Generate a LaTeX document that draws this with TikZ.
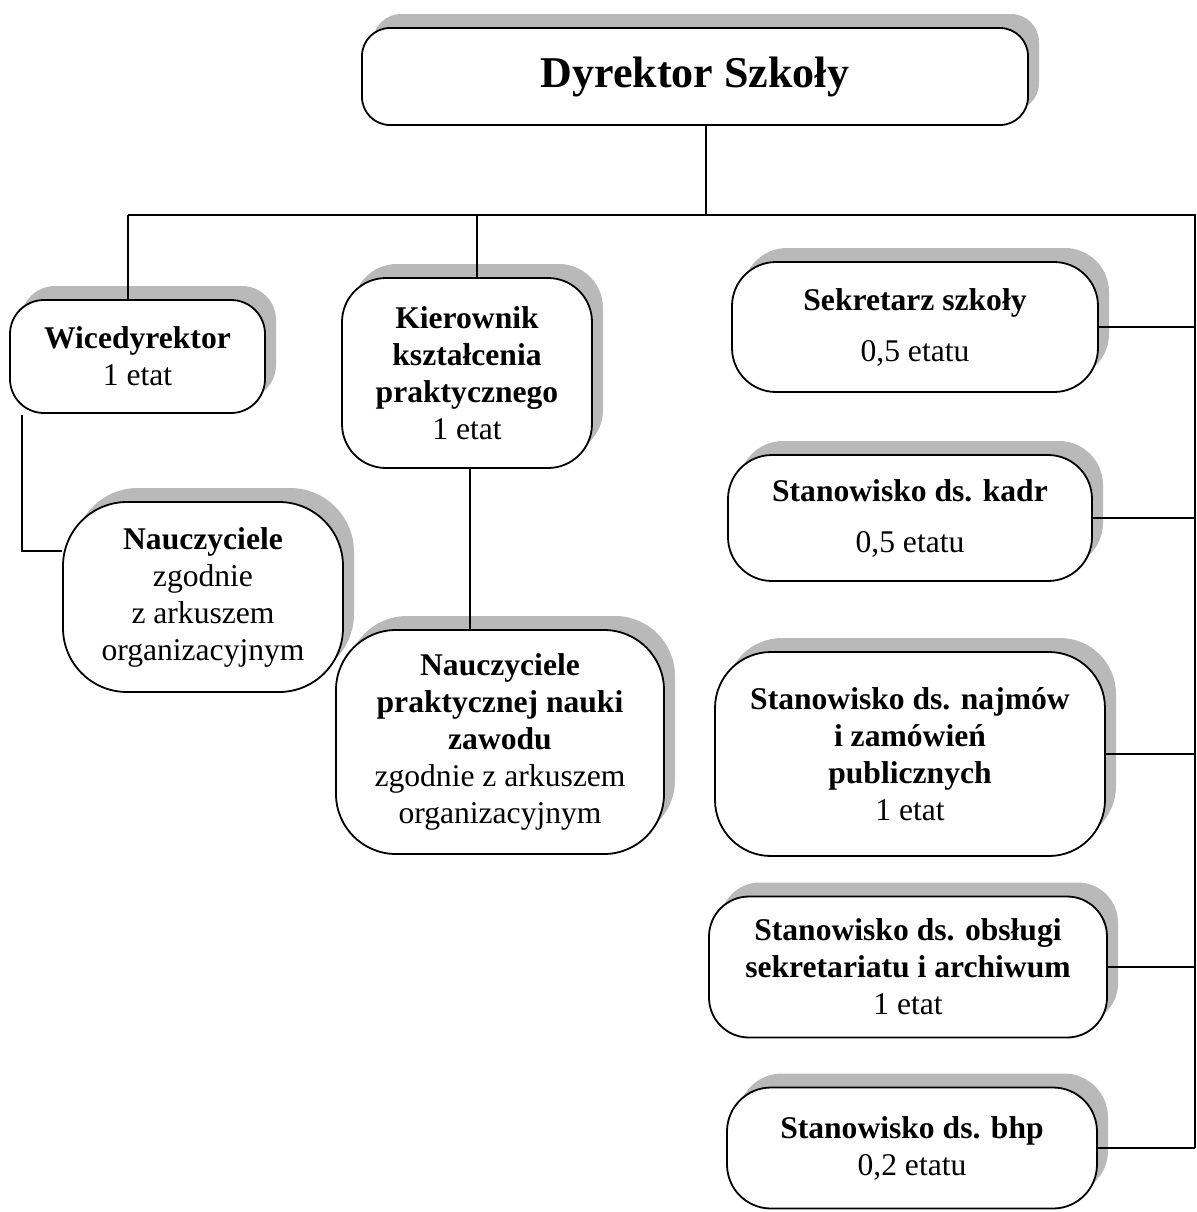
\documentclass[tikz,border=0pt]{standalone}
\usepackage{fontspec}
\setmainfont{Liberation Serif}
\usetikzlibrary{shadows}

\tikzset{
  box/.style={draw, line width=0.9pt, fill=white, align=center, rounded corners=#1,
    inner sep=0pt, font=\fontsize{15.8}{18.5}\selectfont,
    drop shadow={shadow xshift=5.5pt, shadow yshift=7pt, fill=gray!55, opacity=1}},
  box/.default=20pt,
  conn/.style={draw, line width=0.75pt},
}

\begin{document}
\begin{tikzpicture}[x=0.5pt, y=-0.5pt]
    \useasboundingbox (0,0) rectangle (1196,1212);

    % --- 上段 ---
    \node[box=14pt, minimum width=333pt, minimum height=48.5pt,
          font=\fontsize{22}{26}\selectfont\bfseries] (dyr) at (695,76.5) {Dyrektor Szkoły};

    % --- 左側 ---
    \node[box=17pt, minimum width=127.5pt, minimum height=56.5pt] (wice) at (137.5,356.5)
        {\textbf{Wicedyrektor}\\1 etat};
    \node[box=22pt, minimum width=125pt, minimum height=95pt] (kier) at (467,373)
        {\textbf{Kierownik}\\\textbf{kształcenia}\\\textbf{praktycznego}\\1 etat};
    \node[box=32pt, minimum width=140pt, minimum height=95pt] (naucz) at (203,597)
        {\textbf{Nauczyciele}\\zgodnie\\z arkuszem\\organizacyjnym};
    \node[box=30pt, minimum width=164pt, minimum height=112pt] (nauczpr) at (500,742)
        {\textbf{Nauczyciele}\\\textbf{praktycznej nauki}\\\textbf{zawodu}\\zgodnie z arkuszem\\organizacyjnym};

    % --- 右側 ---
    \node[box=22pt, minimum width=183pt, minimum height=65pt] (sekr) at (915,327)
        {\textbf{Sekretarz szkoły}\\[7pt]0,5 etatu};
    \node[box=22pt, minimum width=182pt, minimum height=63pt] (kadr) at (910,518)
        {\textbf{Stanowisko ds. kadr}\\[7pt]0,5 etatu};
    \node[box=28pt, minimum width=195pt, minimum height=102pt] (najm) at (910,754)
        {\textbf{Stanowisko ds. najmów}\\\textbf{i zamówień}\\\textbf{publicznych}\\1 etat};
    \node[box=20pt, minimum width=199pt, minimum height=70.5pt] (obsl) at (908,967)
        {\textbf{Stanowisko ds. obsługi}\\\textbf{sekretariatu i archiwum}\\1 etat};
    \node[box=22pt, minimum width=185pt, minimum height=60.5pt] (bhp) at (912,1148)
        {\textbf{Stanowisko ds. bhp}\\0,2 etatu};

    % --- 接続線 ---
    \coordinate (hl) at (128,215);
    \coordinate (hr) at (1195,215);
    \coordinate (kj) at (477,215);
    \coordinate (wl) at (22,415);

    \draw[conn] ([xshift=5.5pt]dyr.south) -- ([xshift=5.5pt]dyr.south |- hr);
    \draw[conn] (hl) -- (hr) -- (hr |- bhp.east);
    \draw[conn] (hl) -- (hl |- wice.north);
    \draw[conn] (kj) -- (kj |- kier.north);
    \draw[conn] (wl) |- ([yshift=23pt]naucz.west);
    \draw[conn] ([xshift=1.5pt]kier.south) -- ([xshift=1.5pt]kier.south |- nauczpr.north);
    \foreach \n in {sekr,kadr,najm,obsl,bhp} {
        \draw[conn] (\n.east) -- (\n.east -| hr);
    }

\end{tikzpicture}
\end{document}
